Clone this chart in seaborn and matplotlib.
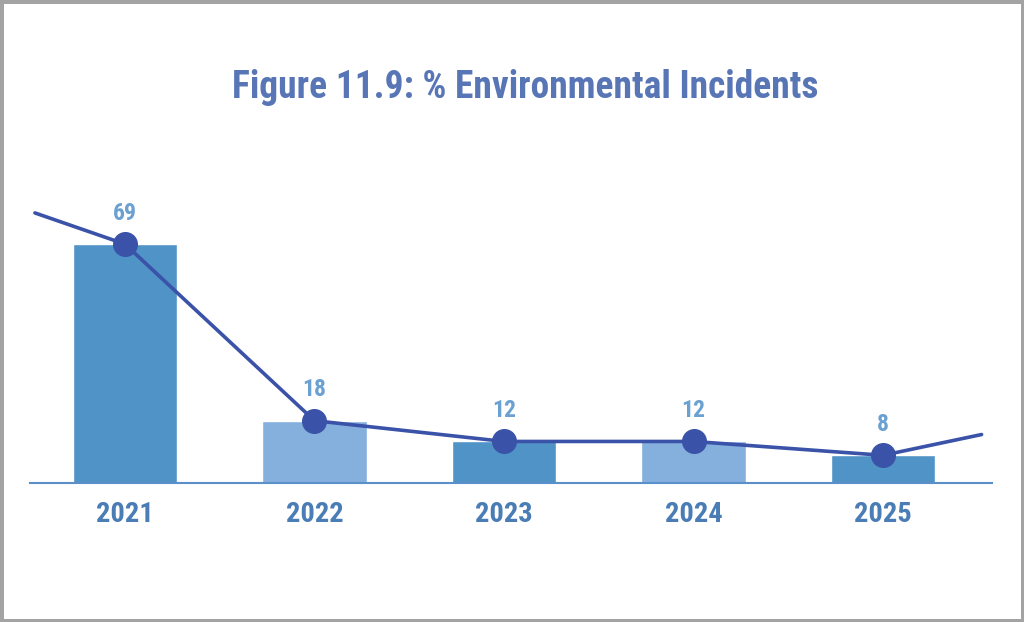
import pandas as pd
import matplotlib.pyplot as plt
import seaborn as sns

# data
years = ['2021', '2022', '2023', '2024', '2025']
incidents = [69, 18, 12, 12, 8]
# where the trend line runs off the left and right edge
edge_pos = [-0.475, 4.52]
edge_values = [78, 14]

bar_colors = ['#5093c6', '#85b0de', '#5093c6', '#85b0de', '#5093c6']
line_color = '#3a52a8'
label_color = '#6aa0d2'
tick_color = '#4a7db5'

df = pd.DataFrame({'Year': years, 'Incidents': incidents})

sns.set_style('white')
plt.rcParams['font.family'] = ['Roboto Condensed', 'Liberation Sans Narrow', 'Roboto', 'DejaVu Sans']

fig = plt.figure(figsize=(10.24, 6.22), dpi=100)
fig.patch.set_edgecolor('#a3a3a3')
fig.patch.set_linewidth(5)
ax = fig.add_axes([30 / 1024, 1 - 483 / 622, 962 / 1024, 277 / 622])

sns.barplot(data=df, x='Year', y='Incidents', hue='Year', palette=bar_colors,
            width=0.55, saturation=1, legend=False, ax=ax)

# trend line with its overhang past the first and last year
line_x = [edge_pos[0]] + list(range(len(years))) + [edge_pos[1]]
line_y = [edge_values[0]] + incidents + [edge_values[1]]
ax.plot(line_x, line_y, color=line_color, lw=2.6, zorder=3)
ax.plot(range(len(years)), incidents, 'o', color=line_color, ms=17, zorder=4)

for i, v in enumerate(incidents):
    ax.annotate(str(v), (i, v), xytext=(0, 14), textcoords='offset points',
                ha='center', va='bottom', fontsize=17, fontweight='bold',
                color=label_color)

ax.set_xlim(-0.501, 4.575)
ax.set_ylim(0, 80)
ax.set_xlabel('')
ax.set_ylabel('')
ax.set_yticks([])
for s in ['top', 'right', 'left']:
    ax.spines[s].set_visible(False)
ax.spines['bottom'].set_color('#5b8fc9')
ax.spines['bottom'].set_linewidth(1.5)
ax.tick_params(axis='x', length=0, pad=13, labelsize=20.5, labelcolor=tick_color)
for t in ax.get_xticklabels():
    t.set_fontweight('bold')

fig.text(525 / 1024, 1 - 88 / 622, 'Figure 11.9: % Environmental Incidents',
         ha='center', va='center', fontsize=27, fontweight='bold', color='#5876b6')

fig.savefig('out.png', dpi=100, edgecolor=fig.get_edgecolor())
